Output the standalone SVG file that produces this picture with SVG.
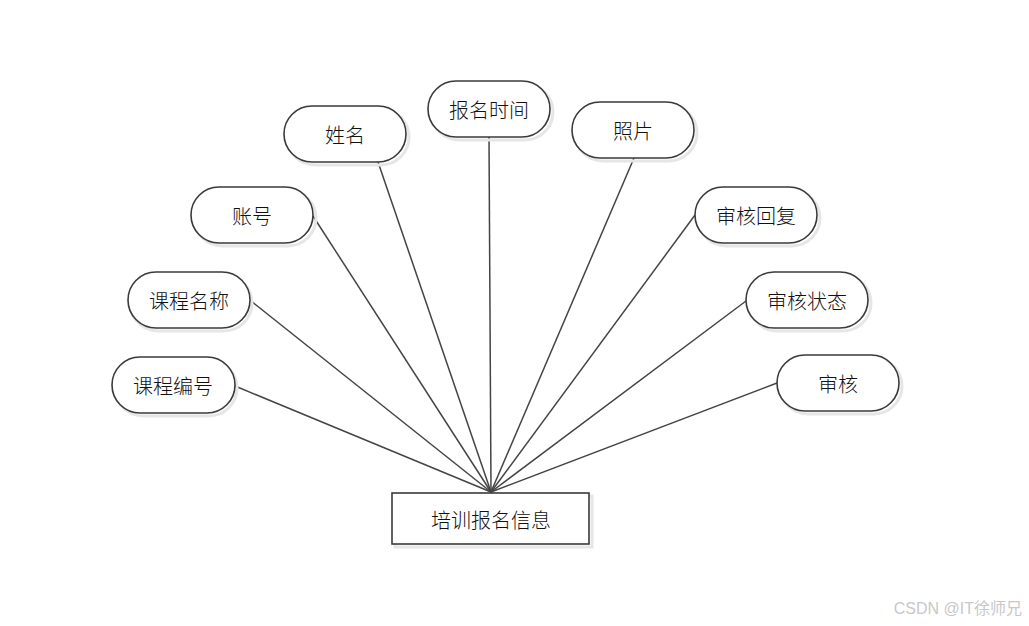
<svg xmlns="http://www.w3.org/2000/svg" width="1029" height="626" viewBox="0 0 1029 626">
<style>
.n{fill:#fff;stroke:#3a3a3a;stroke-width:1.6}
.sh{fill:none;stroke:#e6e6e6;stroke-width:3}
.t{font-family:"Noto Sans CJK SC","Liberation Sans",sans-serif;font-size:20px;font-weight:300;fill:#111;text-anchor:middle;dominant-baseline:central}
.c line{stroke:#444;stroke-width:1.5}
</style>
<rect width="1029" height="626" fill="#fff"/>
<g class="c" id="connectors">
<line x1="235" y1="386" x2="491" y2="492"/>
<line x1="251" y1="301" x2="491" y2="492"/>
<line x1="313" y1="216" x2="491" y2="492"/>
<line x1="378" y1="162" x2="491" y2="492"/>
<line x1="489" y1="137" x2="491" y2="492"/>
<line x1="634" y1="158" x2="491" y2="492"/>
<line x1="695" y1="215" x2="491" y2="492"/>
<line x1="746" y1="301" x2="491" y2="492"/>
<line x1="777" y1="383" x2="491" y2="492"/>
</g>
<g id="n-xingming"><rect class="sh" x="287" y="109" width="122" height="56" rx="28"/><rect class="n" x="284" y="106" width="122" height="56" rx="28"/><text class="t" x="345" y="134">姓名</text></g>
<g id="n-baomingshijian"><rect class="sh" x="431" y="84" width="122" height="56" rx="28"/><rect class="n" x="428" y="81" width="122" height="56" rx="28"/><text class="t" x="489" y="109">报名时间</text></g>
<g id="n-zhanghao"><rect class="sh" x="194" y="190" width="122" height="56" rx="28"/><rect class="n" x="191" y="187" width="122" height="56" rx="28"/><text class="t" x="252" y="215">账号</text></g>
<g id="n-zhaopian"><rect class="sh" x="575" y="105" width="122" height="56" rx="28"/><rect class="n" x="572" y="102" width="122" height="56" rx="28"/><text class="t" x="633" y="130">照片</text></g>
<g id="n-shenhehuifu"><rect class="sh" x="698" y="190" width="122" height="56" rx="28"/><rect class="n" x="695" y="187" width="122" height="56" rx="28"/><text class="t" x="756" y="215">审核回复</text></g>
<g id="n-shenhezhuangtai"><rect class="sh" x="749" y="275" width="122" height="56" rx="28"/><rect class="n" x="746" y="272" width="122" height="56" rx="28"/><text class="t" x="807" y="300">审核状态</text></g>
<g id="n-shenhe"><rect class="sh" x="780" y="358" width="122" height="56" rx="28"/><rect class="n" x="777" y="355" width="122" height="56" rx="28"/><text class="t" x="838" y="383">审核</text></g>
<g id="n-kechengmingcheng"><rect class="sh" x="130" y="275" width="122" height="56" rx="28"/><rect class="n" x="128" y="272" width="122" height="56" rx="28"/><text class="t" x="189" y="300">课程名称</text></g>
<g id="n-kechengbianhao"><rect class="sh" x="115" y="360" width="122" height="56" rx="28"/><rect class="n" x="112" y="357" width="123" height="56" rx="28"/><text class="t" x="173" y="385">课程编号</text></g>
<g id="n-main"><rect x="395" y="496" width="197" height="51" fill="none" stroke="#e6e6e6" stroke-width="3"/><rect class="n" x="392" y="493" width="197" height="51"/><text class="t" x="491" y="519">培训报名信息</text></g>
<text x="1022" y="608" text-anchor="end" font-family="'Liberation Sans','Noto Sans CJK SC',sans-serif" font-size="16" fill="#c8c8c8" dominant-baseline="central">CSDN @IT徐师兄</text>
</svg>
